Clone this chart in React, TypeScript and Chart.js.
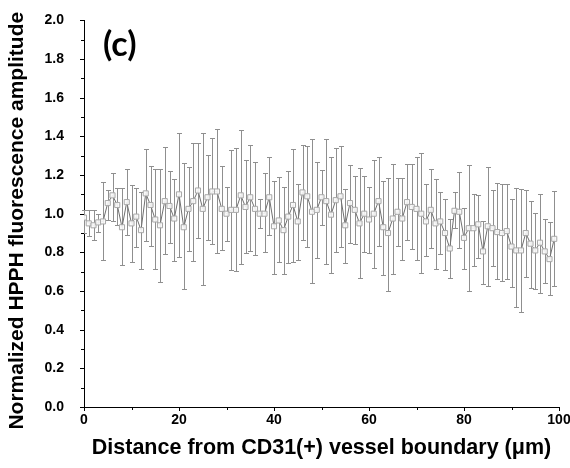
import React, { useEffect, useRef } from 'react';
import { Chart, registerables } from 'chart.js';

Chart.register(...registerables);

// ---- data ----
const distance = [
  0, 1, 2, 3, 4, 5, 6, 7, 8, 9,
  10, 11, 12, 13, 14, 15, 16, 17, 18, 19,
  20, 21, 22, 23, 24, 25, 26, 27, 28, 29,
  30, 31, 32, 33, 34, 35, 36, 37, 38, 39,
  40, 41, 42, 43, 44, 45, 46, 47, 48, 49,
  50, 51, 52, 53, 54, 55, 56, 57, 58, 59,
  60, 61, 62, 63, 64, 65, 66, 67, 68, 69,
  70, 71, 72, 73, 74, 75, 76, 77, 78, 79,
  80, 81, 82, 83, 84, 85, 86, 87, 88, 89,
  90, 91, 92, 93, 94, 95, 96, 97, 98, 99,
];

const meanAmp = [
  0.98, 0.95, 0.94, 0.955, 0.96, 1.055, 1.095, 1.045, 0.93, 1.06,
  0.95, 0.985, 0.915, 1.105, 1.045, 0.97, 0.94, 1.065, 1.04, 0.975,
  1.1, 0.93, 1.025, 1.065, 1.12, 1.025, 1.085, 1.115, 1.115, 1.025,
  1.0, 1.02, 1.02, 1.095, 1.035, 1.085, 1.025, 1.0, 1.0, 1.085,
  0.935, 0.965, 0.915, 0.985, 1.045, 0.96, 1.11, 1.09, 1.01, 1.02,
  1.085, 1.065, 0.995, 1.07, 1.09, 0.94, 1.055, 1.02, 0.95, 1.0,
  0.97, 1.0, 1.065, 0.93, 0.9, 0.975, 1.01, 0.975, 1.06, 1.035,
  1.025, 1.0, 0.96, 1.02, 0.95, 0.96, 0.9, 0.82, 1.015, 1.01,
  0.875, 0.925, 0.925, 0.945, 0.805, 0.935, 0.925, 0.905, 0.9, 0.91,
  0.83, 0.81, 0.81, 0.9, 0.845, 0.81, 0.85, 0.805, 0.765, 0.87,
];

const upperAmp = [
  1.02, 1.02, 1.02, 1.0, 1.165, 1.125, 1.21, 1.135, 1.135, 1.23,
  1.15, 1.135, 1.11, 1.335, 1.245, 1.23, 1.23, 1.345, 1.22, 1.18,
  1.42, 1.26, 1.24, 1.365, 1.365, 1.415, 1.305, 1.39, 1.44, 1.245,
  1.14, 1.33, 1.34, 1.435, 1.28, 1.355, 1.27, 1.075, 1.21, 1.295,
  1.17, 1.19, 1.14, 1.22, 1.335, 1.155, 1.355, 1.35, 1.385, 1.265,
  1.225, 1.385, 1.295, 1.34, 1.35, 1.13, 1.25, 1.195, 1.235, 1.195,
  1.14, 1.28, 1.295, 1.17, 1.185, 1.255, 1.185, 1.185, 1.255, 1.255,
  1.295, 1.315, 1.155, 1.23, 1.18, 1.11, 1.075, 0.975, 1.11, 1.215,
  1.03, 1.25, 1.1, 1.095, 0.96, 1.24, 1.125, 1.16, 1.155, 1.155,
  1.075, 1.135, 1.13, 1.125, 1.065, 1.005, 1.1, 0.97, 0.955, 1.115,
];

const lowerAmp = [
  0.9, 0.885, 0.865, 0.905, 0.76, 0.965, 0.96, 0.94, 0.735, 0.89,
  0.75, 0.83, 0.715, 0.86, 0.835, 0.715, 0.645, 0.79, 0.85, 0.755,
  0.775, 0.61, 0.805, 0.755, 0.875, 0.63, 0.865, 0.845, 0.795, 0.81,
  0.86, 0.71, 0.705, 0.74, 0.795, 0.805, 0.785, 0.925, 0.8, 0.89,
  0.69, 0.75, 0.69, 0.745, 0.75, 0.76, 0.865, 0.83, 0.64, 0.77,
  0.94, 0.74, 0.695, 0.8, 0.83, 0.745, 0.85, 0.845, 0.665, 0.8,
  0.795, 0.72, 0.835, 0.685, 0.6, 0.69, 0.835, 0.76, 0.865, 0.815,
  0.76, 0.695, 0.78, 0.82, 0.715, 0.79, 0.71, 0.665, 0.925, 0.82,
  0.715, 0.6, 0.73, 0.77, 0.635, 0.625, 0.73, 0.66, 0.65, 0.66,
  0.62, 0.515, 0.49, 0.675, 0.615, 0.61, 0.59, 0.64, 0.58, 0.625,
];

const xMin = 0;
const xMax = 100;
const xStep = 20;
const yMin = 0;
const yMax = 2.0;
const yStep = 0.2;

const panelLabel = '(c)';
const xTitle = 'Distance from CD31(+) vessel boundary (\u03bcm)';
const yTitle = 'Normalized HPPH fluorescence amplitude';

const FONT = "'Liberation Sans', Arial, sans-serif";

// ---- plugins ----
const errorBarPlugin = {
  id: 'errorBars',
  beforeDatasetsDraw(chart: any) {
    const { ctx, scales } = chart;
    const x = scales.x;
    const y = scales.y;
    ctx.save();
    ctx.strokeStyle = '#8f8f8f';
    ctx.lineWidth = 1;
    const cap = 2.5;
    for (let i = 0; i < distance.length; i++) {
      const px = Math.round(x.getPixelForValue(distance[i])) + 0.5;
      const yt = Math.round(y.getPixelForValue(upperAmp[i])) + 0.5;
      const yb = Math.round(y.getPixelForValue(lowerAmp[i])) + 0.5;
      ctx.beginPath();
      ctx.moveTo(px, yt);
      ctx.lineTo(px, yb);
      ctx.moveTo(px - cap, yt);
      ctx.lineTo(px + cap, yt);
      ctx.moveTo(px - cap, yb);
      ctx.lineTo(px + cap, yb);
      ctx.stroke();
    }
    ctx.restore();
  },
};

const decorPlugin = {
  id: 'decor',
  afterDraw(chart: any) {
    const { ctx, scales, chartArea } = chart;
    const x = scales.x;
    const y = scales.y;
    const major = 4;
    const minor = 3;
    ctx.save();
    ctx.strokeStyle = '#000';
    ctx.lineWidth = 1;
    ctx.beginPath();
    const xt = x.ticks.map((t: any) => t.value);
    for (let i = 0; i < xt.length; i++) {
      const px = Math.round(x.getPixelForValue(xt[i])) + 0.5;
      ctx.moveTo(px, chartArea.bottom);
      ctx.lineTo(px, chartArea.bottom + major);
      if (i < xt.length - 1) {
        const mx = Math.round(x.getPixelForValue((xt[i] + xt[i + 1]) / 2)) + 0.5;
        ctx.moveTo(mx, chartArea.bottom);
        ctx.lineTo(mx, chartArea.bottom + minor);
      }
    }
    const yt = y.ticks.map((t: any) => t.value);
    for (let i = 0; i < yt.length; i++) {
      const py = Math.round(y.getPixelForValue(yt[i])) + 0.5;
      ctx.moveTo(chartArea.left, py);
      ctx.lineTo(chartArea.left - major, py);
      if (i < yt.length - 1) {
        const my = Math.round(y.getPixelForValue((yt[i] + yt[i + 1]) / 2)) + 0.5;
        ctx.moveTo(chartArea.left, my);
        ctx.lineTo(chartArea.left - minor, my);
      }
    }
    ctx.stroke();

    // y-axis title
    ctx.fillStyle = '#000';
    ctx.save();
    ctx.translate(17, (chartArea.top + chartArea.bottom) / 2 + 7);
    ctx.rotate(-Math.PI / 2);
    ctx.font = `bold 21px ${FONT}`;
    ctx.textAlign = 'center';
    ctx.textBaseline = 'middle';
    ctx.fillText(yTitle, 0, 0);
    ctx.restore();

    // panel label
    ctx.font = `bold 34px Lato, ${FONT}`;
    ctx.textAlign = 'left';
    ctx.textBaseline = 'alphabetic';
    ctx.fillText(panelLabel, chartArea.left + 19, chartArea.top + 36);
    ctx.restore();
  },
};

export default function App() {
  const canvasRef = useRef<HTMLCanvasElement | null>(null);

  useEffect(() => {
    const canvas = canvasRef.current;
    if (!canvas) return;
    const chart = new Chart(canvas, {
      type: 'line',
      data: {
        datasets: [
          {
            label: 'HPPH',
            data: distance.map((d, i) => ({ x: d, y: meanAmp[i] })),
            borderColor: '#707070',
            borderWidth: 1,
            pointStyle: 'rect',
            pointRadius: 3.6,
            pointBorderWidth: 1,
            pointBorderColor: '#a8a8a8',
            pointBackgroundColor: 'rgba(250,250,250,0.9)',
            tension: 0,
            fill: false,
          },
        ],
      },
      options: {
        responsive: false,
        animation: false,
        events: [],
        layout: { padding: { top: 20, left: 0, right: 0, bottom: 0 } },
        plugins: {
          legend: { display: false },
          tooltip: { enabled: false },
          title: { display: false },
        },
        scales: {
          x: {
            type: 'linear',
            min: xMin,
            max: xMax,
            grid: { display: false },
            border: { display: true, color: '#000', width: 1 },
            ticks: {
              stepSize: xStep,
              color: '#000',
              padding: -3,
              maxRotation: 0,
              font: { family: FONT, size: 14, weight: 'bold' },
              callback: (v: any) => String(Math.round(Number(v))),
            },
            title: {
              display: true,
              text: xTitle,
              color: '#000',
              font: { family: FONT, size: 21.5, weight: 'bold' },
              padding: { top: 0, bottom: 7 },
            },
            afterFit: (s: any) => {
              s.height = 61;
              s.paddingLeft = 0;
              s.paddingRight = 11;
            },
          },
          y: {
            type: 'linear',
            min: yMin,
            max: yMax,
            grid: { display: false },
            border: { display: true, color: '#000', width: 1 },
            ticks: {
              stepSize: yStep,
              color: '#000',
              padding: 12,
              font: { family: FONT, size: 14, weight: 'bold' },
              callback: (v: any) => Number(v).toFixed(1),
            },
            title: { display: false },
            afterFit: (s: any) => {
              s.width = 84;
            },
          },
        },
      },
      plugins: [errorBarPlugin, decorPlugin],
    });
    return () => chart.destroy();
  }, []);

  return (
    <div style={{ position: 'absolute', left: 0, top: 0, width: 570, height: 468, background: '#fff' }}>
      <canvas ref={canvasRef} width={570} height={468} style={{ display: 'block' }} />
    </div>
  );
}
